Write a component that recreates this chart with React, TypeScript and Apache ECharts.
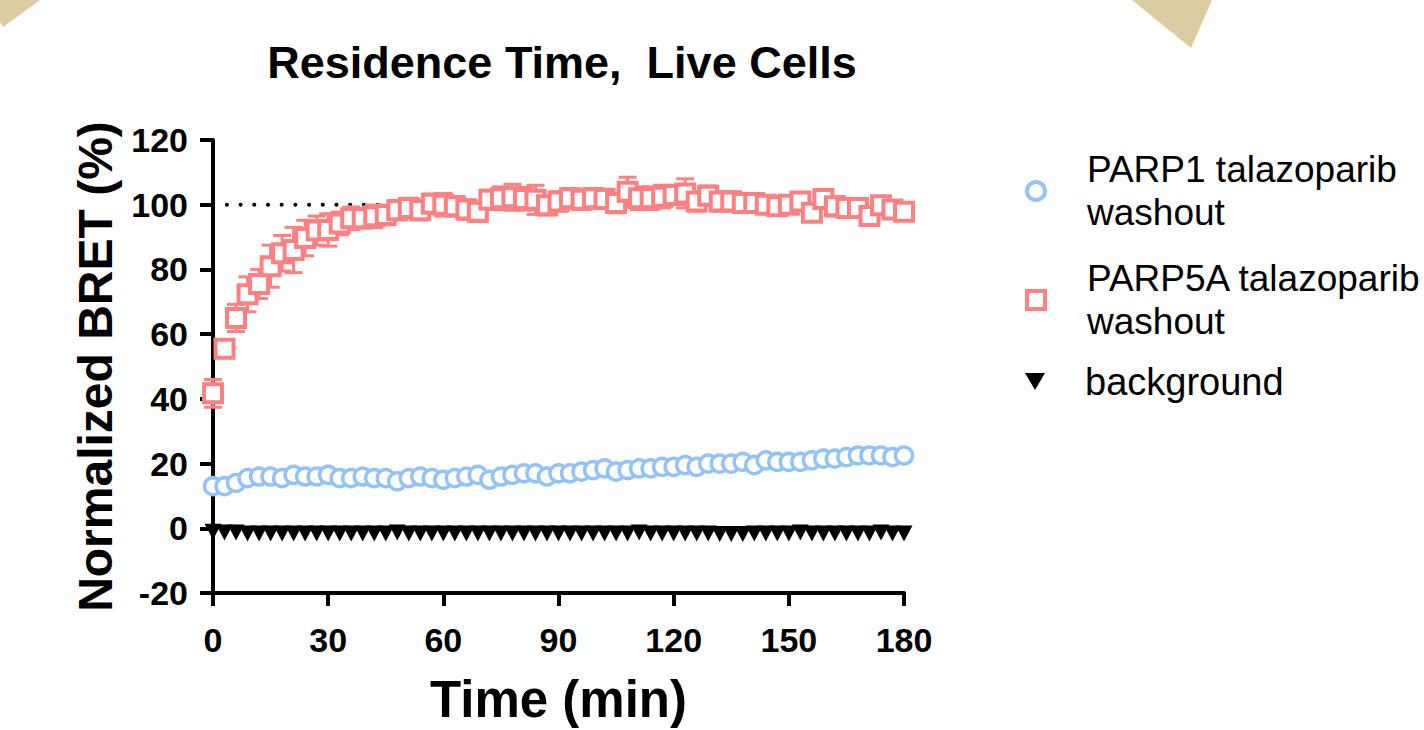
import React, { useEffect, useRef } from "react";
import * as echarts from "echarts";

const times = [0, 3, 6, 9, 12, 15, 18, 21, 24, 27, 30, 33, 36, 39, 42, 45, 48, 51, 54, 57, 60, 63, 66, 69, 72, 75, 78, 81, 84, 87, 90, 93, 96, 99, 102, 105, 108, 111, 114, 117, 120, 123, 126, 129, 132, 135, 138, 141, 144, 147, 150, 153, 156, 159, 162, 165, 168, 171, 174, 177, 180];

const parp1 = [13, 13, 14, 15.5, 16, 16, 15.5, 16.5, 16, 16, 16.5, 15.5, 15.5, 16, 15.5, 15.5, 14.5, 15.5, 16, 15.5, 15, 15.5, 16, 16.5, 15, 16, 16.5, 17, 17, 16, 17, 17, 17.5, 18, 18.5, 17.5, 18, 18.5, 18.5, 19, 19, 19.5, 19, 20, 20, 20, 20.5, 19.5, 21, 20.5, 20.5, 20.5, 21, 21.5, 21.5, 22, 22.5, 22.5, 22.5, 22, 22.5];

const parp5a = [41.7, 55.5, 65, 72.3, 75.5, 81, 85, 86, 89.7, 92, 92.2, 94.2, 95.8, 95.8, 96.4, 96.8, 98.3, 99, 98.3, 100.3, 100, 99.5, 98.5, 97.8, 101.5, 102, 102.3, 101.8, 101.5, 99.8, 101, 102, 101.5, 102, 101.8, 100.5, 104, 102, 102, 102.5, 103, 103.5, 101, 102.8, 101, 101, 100.5, 100.5, 100, 99.5, 100, 101, 97.5, 101.8, 99.5, 99, 99, 96.5, 99.8, 98.5, 97.8];

const parp5aErr = [4.3, 2.5, 4.2, 5.4, 4.5, 6.5, 5.5, 7, 5.5, 4.5, 5, 3.5, 3.5, 3, 3.5, 3, 3, 3, 3, 3, 3.5, 3, 3, 3, 3, 3.5, 4, 3.5, 4.5, 3, 3, 3, 3, 3, 3, 3, 4.5, 3.5, 3.5, 3.5, 3, 4.5, 3, 3, 3, 3, 2.5, 2.5, 2.5, 2.5, 2.5, 2.5, 2.5, 2.5, 3, 2.5, 2.5, 2.5, 2.5, 2.5, 2.5];

const background = [-1.1, -1.3, -1.3, -1.6, -1.6, -1.6, -1.6, -1.6, -1.6, -1.6, -1.6, -1.6, -1.6, -1.6, -1.6, -1.6, -1.3, -1.6, -1.6, -1.6, -1.6, -1.6, -1.6, -1.6, -1.6, -1.6, -1.6, -1.6, -1.6, -1.6, -1.6, -1.6, -1.6, -1.6, -1.6, -1.6, -1.6, -1.3, -1.6, -1.6, -1.6, -1.6, -1.6, -1.6, -1.8, -1.8, -1.8, -1.6, -1.6, -1.6, -1.6, -1.3, -1.6, -1.6, -1.6, -1.6, -1.6, -1.6, -1.3, -1.6, -1.6];

const refLine = [[3.6, 100], [44, 100]];

const xTicks = { min: 0, max: 180, interval: 30 };
const yTicks = { min: -20, max: 120, interval: 20 };

const seriesNames = ["PARP1 talazoparib washout", "PARP5A talazoparib washout", "background"];

const BLUE = "#93C2FB";
const RED = "#FF8080";
const TAN = "#DDCBA2";
const FONT = "Liberation Sans, Arial, sans-serif";

export default function App() {
  const ref = useRef<HTMLDivElement>(null);
  useEffect(() => {
    if (!ref.current) return;
    const chart = echarts.init(ref.current, null, { renderer: "svg" });
    const fmt = (n: string) => n.replace(" washout", "\nwashout");
    const legendText = { fontFamily: FONT, fontSize: 37, color: "#000", lineHeight: 43, padding: [0, 0, 0, 37] };
    chart.setOption({
      animation: false,
      backgroundColor: "#fff",
      title: {
        text: "Residence Time,  Live Cells",
        left: 557,
        top: 35,
        textAlign: "center",
        textStyle: { fontFamily: FONT, fontSize: 45, fontWeight: "bold", color: "#000" },
      },
      graphic: [
        { type: "polygon", shape: { points: [[0, 0], [40, 0], [3, 27], [0, 22]] }, style: { fill: TAN }, silent: true },
        { type: "polygon", shape: { points: [[1132, 0], [1212, 0], [1191, 48]] }, style: { fill: TAN }, silent: true },
      ],
      legend: [
        {
          data: [seriesNames[0]], left: 1025, top: 148, padding: 0, itemWidth: 18, itemHeight: 18, selectedMode: false,
          formatter: fmt, textStyle: legendText,
          itemStyle: { color: "#fff", borderColor: BLUE, borderWidth: 4 },
        },
        {
          data: [seriesNames[1]], left: 1025, top: 257, padding: 0, itemWidth: 18, itemHeight: 18, selectedMode: false,
          formatter: fmt, textStyle: legendText,
          itemStyle: { color: "#fff", borderColor: RED, borderWidth: 4 },
        },
        {
          data: [{ name: seriesNames[2], icon: "path://M0,0 L20,0 L10,17 Z" }], left: 1025, top: 360, padding: 0, itemWidth: 20, itemHeight: 17, selectedMode: false,
          textStyle: { ...legendText, fontSize: 38, padding: [0, 0, 0, 35] },
          itemStyle: { color: "#000", borderWidth: 0 },
        },
      ],
      grid: { left: 213, top: 140, right: 520, bottom: 129, containLabel: false },
      xAxis: {
        type: "value",
        min: xTicks.min,
        max: xTicks.max,
        interval: xTicks.interval,
        name: "Time (min)",
        nameLocation: "middle",
        nameGap: 81,
        nameTextStyle: { fontFamily: FONT, fontSize: 51, fontWeight: "bold", color: "#000" },
        axisLine: { show: true, onZero: false, lineStyle: { color: "#000", width: 4 } },
        axisTick: { show: true, length: 13, lineStyle: { color: "#000", width: 4 } },
        axisLabel: { margin: 30, fontFamily: FONT, fontSize: 34, fontWeight: "bold", color: "#000" },
        splitLine: { show: false },
      },
      yAxis: {
        type: "value",
        min: yTicks.min,
        max: yTicks.max,
        interval: yTicks.interval,
        name: "Normalized BRET (%)",
        nameLocation: "middle",
        nameRotate: 90,
        nameGap: 94,
        nameTextStyle: { fontFamily: FONT, fontSize: 48, fontWeight: "bold", color: "#000" },
        axisLine: { show: true, lineStyle: { color: "#000", width: 4 } },
        axisTick: { show: true, length: 13, lineStyle: { color: "#000", width: 4 } },
        axisLabel: { margin: 25, fontFamily: FONT, fontSize: 34, fontWeight: "bold", color: "#000" },
        splitLine: { show: false },
      },
      series: [
        {
          type: "line",
          data: refLine,
          symbol: "none",
          silent: true,
          z: 1,
          lineStyle: { color: "#000", width: 4, type: [0.1, 13.6], cap: "round" },
        },
        {
          type: "custom",
          name: "err",
          z: 2,
          silent: true,
          data: times.map((t, i) => [t, parp5a[i] - parp5aErr[i], parp5a[i] + parp5aErr[i]]),
          renderItem: (params: any, api: any) => {
            const x = api.value(0);
            const lo = api.coord([x, api.value(1)]);
            const hi = api.coord([x, api.value(2)]);
            const w = 9;
            const st = { stroke: RED, lineWidth: 3 };
            return {
              type: "group",
              children: [
                { type: "line", shape: { x1: lo[0], y1: lo[1], x2: hi[0], y2: hi[1] }, style: st },
                { type: "line", shape: { x1: lo[0] - w, y1: lo[1], x2: lo[0] + w, y2: lo[1] }, style: st },
                { type: "line", shape: { x1: hi[0] - w, y1: hi[1], x2: hi[0] + w, y2: hi[1] }, style: st },
              ],
            };
          },
        },
        {
          type: "scatter",
          name: seriesNames[0],
          z: 3,
          clip: false,
          symbol: "circle",
          symbolSize: 17,
          itemStyle: { color: "#fff", borderColor: BLUE, borderWidth: 3.5, opacity: 1 },
          data: times.map((t, i) => [t, parp1[i]]),
        },
        {
          type: "scatter",
          name: seriesNames[1],
          z: 3,
          clip: false,
          symbol: "rect",
          symbolSize: 18,
          itemStyle: { color: "#fff", borderColor: RED, borderWidth: 4, opacity: 1 },
          data: times.map((t, i) => [t, parp5a[i]]),
        },
        {
          type: "scatter",
          name: seriesNames[2],
          z: 3,
          clip: false,
          symbol: "triangle",
          symbolRotate: 180,
          symbolSize: [17, 16],
          itemStyle: { color: "#000", opacity: 1 },
          data: times.map((t, i) => [t, background[i]]),
        },
      ],
    });
    return () => chart.dispose();
  }, []);
  return <div ref={ref} style={{ position: "fixed", left: 0, top: 0, width: 1424, height: 730 }} />;
}
